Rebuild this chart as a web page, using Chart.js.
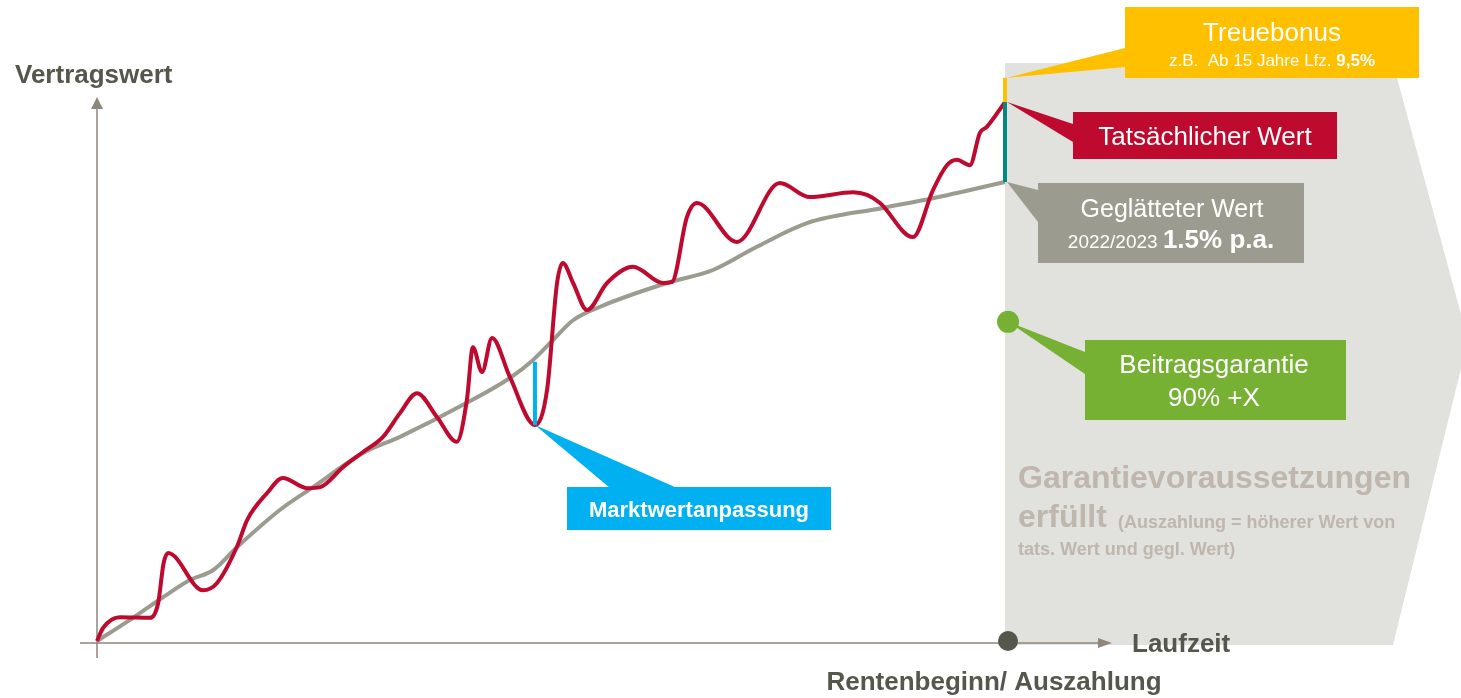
<!DOCTYPE html>
<html>
<head>
<meta charset="utf-8">
<script src="https://cdn.jsdelivr.net/npm/chart.js@4.4.1/dist/chart.umd.min.js"></script>
<style>
  html, body { margin: 0; padding: 0; background: #fff; }
  #wrap { position: relative; width: 1461px; height: 698px; }
</style>
</head>
<body>
<div id="wrap"><canvas id="chart"></canvas></div>
<script>
// Laufzeit in Jahren, Vertragswert in relativen Einheiten (0..100)
var actualYears = [0, 0.2, 0.76, 1.75, 2.02, 2.2, 2.35, 3.5, 3.96, 4.62, 4.96, 5.62, 6.14, 6.94, 7.37, 8.13, 8.79, 9.45, 10.01, 10.57, 11.23, 11.89, 12.22, 12.42, 12.72, 13.05, 13.64, 14.47, 14.87, 15.2, 15.39, 15.73, 16.19, 16.85, 17.71, 18.7, 19.0, 19.49, 19.82, 21.14, 22.56, 23.55, 24.98, 25.44, 25.87, 26.96, 27.62, 28.08, 28.41, 28.84, 29.17, 29.4, 30];
var actualValues = [0, 2.4, 4.4, 4.3, 7.0, 14.4, 16.3, 9.4, 10.7, 17.4, 22.4, 27.4, 30.2, 28.3, 28.5, 32.2, 35.0, 37.8, 42.2, 45.9, 41.5, 36.9, 44.6, 54.4, 49.8, 56.1, 48.9, 40.0, 46.5, 66.3, 70.0, 66.3, 61.3, 66.3, 69.3, 66.3, 66.5, 78.5, 81.1, 73.9, 84.8, 82.2, 83.1, 82.6, 81.1, 74.8, 83.5, 88.1, 89.1, 88.1, 94.1, 95.2, 99.8];
var smoothYears = [0, 1.09, 2.18, 3.07, 3.83, 4.63, 6.05, 7.14, 8.79, 10.01, 12.22, 13.64, 14.4, 15.06, 15.73, 16.62, 18.83, 20.35, 21.8, 23.46, 25.97, 27.62, 30];
var smoothValues = [0, 3.9, 8.1, 11.3, 13.1, 17.4, 24.3, 28.5, 34.8, 37.8, 44.1, 48.7, 52.0, 55.7, 59.4, 61.9, 66.3, 68.7, 73.0, 77.4, 80.2, 82.0, 85.0];
var payoutYear = 30;
var bonusRange = [99.8, 104.3];
var gapRange = [85.0, 99.8];
var marketYear = 14.47;
var marketRange = [40.0, 51.7];
var guaranteeYear = 30.1;
var guaranteeValue = 59.1;

function pts(xs, ys) {
    return xs.map(function(x, i) { return { x: x, y: ys[i] }; });
}

var FONT = '"Liberation Sans", Arial, sans-serif';

function callout(ctx, color, tip, a, b, box) {
    ctx.fillStyle = color;
    ctx.beginPath();
    ctx.moveTo(tip[0], tip[1]);
    ctx.lineTo(a[0], a[1]);
    ctx.lineTo(b[0], b[1]);
    ctx.closePath();
    ctx.fill();
    ctx.fillRect(box[0], box[1], box[2], box[3]);
}

function text(ctx, str, x, y, size, bold, color, align) {
    ctx.font = (bold ? 'bold ' : '') + size + 'px ' + FONT;
    ctx.fillStyle = color;
    ctx.textAlign = align || 'center';
    ctx.textBaseline = 'alphabetic';
    ctx.fillText(str, x, y);
}

var decor = {
    id: 'decor',
    beforeDatasetsDraw: function(chart) {
        var ctx = chart.ctx, xs = chart.scales.x, ys = chart.scales.y;
        var px = xs.getPixelForValue(payoutYear);
        ctx.save();
        // Auszahlungsphase (grau hinterlegt)
        ctx.fillStyle = '#e1e1dd';
        ctx.beginPath();
        ctx.moveTo(px, 63);
        ctx.lineTo(1393, 63);
        ctx.lineTo(1468, 340);
        ctx.lineTo(1393, 645);
        ctx.lineTo(px, 645);
        ctx.closePath();
        ctx.fill();
        // Achsen
        var x0 = xs.getPixelForValue(0), y0 = ys.getPixelForValue(0) + 2;
        ctx.strokeStyle = '#8f867c';
        ctx.fillStyle = '#8f867c';
        ctx.lineWidth = 1.5;
        ctx.beginPath();
        ctx.moveTo(80, y0); ctx.lineTo(1100, y0);
        ctx.moveTo(x0, 658); ctx.lineTo(x0, 106);
        ctx.stroke();
        ctx.beginPath();
        ctx.moveTo(1112, y0); ctx.lineTo(1098, y0 - 5); ctx.lineTo(1098, y0 + 5); ctx.closePath();
        ctx.moveTo(x0, 97); ctx.lineTo(x0 - 6, 109); ctx.lineTo(x0 + 6, 109); ctx.closePath();
        ctx.fill();
        // Texte im grauen Bereich
        var tc = '#bfb6ae';
        text(ctx, 'Garantievoraussetzungen', 1018, 488, 32, true, tc, 'left');
        text(ctx, 'erfüllt', 1018, 527, 32, true, tc, 'left');
        text(ctx, '(Auszahlung = höherer Wert von', 1118, 528, 18, true, tc, 'left');
        text(ctx, 'tats. Wert und gegl. Wert)', 1018, 555, 18, true, tc, 'left');
        ctx.restore();
    },
    afterDatasetsDraw: function(chart) {
        var ctx = chart.ctx, xs = chart.scales.x, ys = chart.scales.y;
        var px = xs.getPixelForValue(payoutYear);
        ctx.save();
        // Treuebonus
        callout(ctx, '#ffc000', [px + 2, ys.getPixelForValue(bonusRange[1])], [1125, 48], [1125, 67], [1125, 7, 294, 71]);
        text(ctx, 'Treuebonus', 1272, 41, 26, false, '#fff');
        ctx.font = '17px ' + FONT;
        var s1 = 'z.B.  Ab 15 Jahre Lfz. ';
        var w1 = ctx.measureText(s1).width;
        ctx.font = 'bold 17px ' + FONT;
        var w2 = ctx.measureText('9,5%').width;
        var sx = 1272 - (w1 + w2) / 2;
        text(ctx, s1, sx, 66, 17, false, '#fff', 'left');
        text(ctx, '9,5%', sx + w1, 66, 17, true, '#fff', 'left');
        // Tatsächlicher Wert
        callout(ctx, '#be0a2f', [px + 2, ys.getPixelForValue(gapRange[1])], [1073, 124], [1073, 142], [1073, 112, 264, 47]);
        text(ctx, 'Tatsächlicher Wert', 1205, 145, 26, false, '#fff');
        // Geglätteter Wert
        callout(ctx, '#9b9b8f', [px + 2, ys.getPixelForValue(gapRange[0])], [1038, 190], [1038, 222], [1038, 183, 266, 80]);
        text(ctx, 'Geglätteter Wert', 1172, 217, 25, false, '#fff');
        ctx.font = '19px ' + FONT;
        var g1 = '2022/2023 ';
        var gw1 = ctx.measureText(g1).width;
        ctx.font = 'bold 26px ' + FONT;
        var gw2 = ctx.measureText('1.5% p.a.').width;
        var gx = 1171 - (gw1 + gw2) / 2;
        text(ctx, g1, gx, 248, 19, false, '#fff', 'left');
        text(ctx, '1.5% p.a.', gx + gw1, 248, 26, true, '#fff', 'left');
        // Beitragsgarantie
        callout(ctx, '#76b134', [xs.getPixelForValue(guaranteeYear), ys.getPixelForValue(guaranteeValue)], [1085, 352], [1085, 374], [1085, 340, 261, 80]);
        text(ctx, 'Beitragsgarantie', 1214, 373, 26, false, '#fff');
        text(ctx, '90% +X', 1214, 406, 26, false, '#fff');
        // Marktwertanpassung
        callout(ctx, '#00b0f0', [xs.getPixelForValue(marketYear), ys.getPixelForValue(marketRange[0])], [610, 488], [677, 488], [567, 487, 264, 43]);
        text(ctx, 'Marktwertanpassung', 699, 517, 22, true, '#fff');
        // Achsentitel
        text(ctx, 'Vertragswert', 15, 83, 26, true, '#55564c', 'left');
        text(ctx, 'Laufzeit', 1132, 652, 26, true, '#55564c', 'left');
        text(ctx, 'Rentenbeginn/ Auszahlung', 994, 690, 26, true, '#55564c');
        ctx.restore();
    }
};

new Chart(document.getElementById('chart').getContext('2d'), {
    type: 'line',
    data: {
        datasets: [
            { data: [{ x: guaranteeYear, y: guaranteeValue }], showLine: false, pointRadius: 11, pointBackgroundColor: '#76b134', pointBorderWidth: 0 },
            { data: [{ x: guaranteeYear, y: 0 }], showLine: false, pointRadius: 10, pointBackgroundColor: '#55564c', pointBorderWidth: 0 },
            { data: [{ x: payoutYear, y: bonusRange[0] }, { x: payoutYear, y: bonusRange[1] }], borderColor: '#ffc000', borderWidth: 4, pointRadius: 0 },
            { data: [{ x: payoutYear, y: gapRange[0] }, { x: payoutYear, y: gapRange[1] }], borderColor: '#008a84', borderWidth: 4, pointRadius: 0 },
            { data: [{ x: marketYear, y: marketRange[0] }, { x: marketYear, y: marketRange[1] }], borderColor: '#00b0f0', borderWidth: 4, pointRadius: 0 },
            { data: pts(actualYears, actualValues), borderColor: '#be0a2f', borderWidth: 4, pointRadius: 0, cubicInterpolationMode: 'monotone' },
            { data: pts(smoothYears, smoothValues), borderColor: '#9b9b8f', borderWidth: 4, pointRadius: 0, cubicInterpolationMode: 'monotone' }
        ]
    },
    options: {
        responsive: true,
        maintainAspectRatio: false,
        animation: false,
        layout: { padding: { left: 97, right: 456, top: 101, bottom: 57 } },
        datasets: { line: { clip: false } },
        scales: {
            x: { type: 'linear', min: 0, max: 30, display: false },
            y: { min: 0, max: 100, display: false }
        },
        plugins: { legend: { display: false }, tooltip: { enabled: false } }
    },
    plugins: [decor]
});
</script>
</body>
</html>
